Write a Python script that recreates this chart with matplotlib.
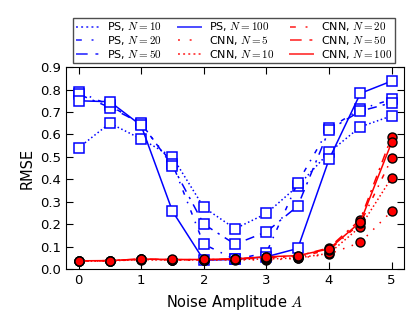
import numpy as np
import matplotlib
matplotlib.use("Agg")
import matplotlib.pyplot as plt

amp = [0, 0.5, 1, 1.5, 2, 2.5, 3, 3.5, 4, 4.5, 5]

ps_n = [10, 20, 50, 100]
ps_rmse = {
    10: [0.54, 0.65, 0.58, 0.50, 0.275, 0.18, 0.248, 0.37, 0.52, 0.634, 0.683],
    20: [0.79, 0.73, 0.645, 0.47, 0.111, 0.043, 0.073, 0.385, 0.627, 0.713, 0.756],
    50: [0.78, 0.72, 0.65, 0.46, 0.20, 0.111, 0.166, 0.281, 0.62, 0.704, 0.741],
    100: [0.75, 0.746, 0.64, 0.258, 0.04, 0.043, 0.055, 0.092, 0.489, 0.783, 0.838],
}

cnn_n = [5, 10, 20, 50, 100]
cnn_rmse = {
    5: [0.036, 0.036, 0.043, 0.04, 0.04, 0.042, 0.04, 0.048, 0.067, 0.119, 0.258],
    10: [0.036, 0.037, 0.042, 0.041, 0.041, 0.043, 0.045, 0.05, 0.07, 0.189, 0.407],
    20: [0.037, 0.037, 0.044, 0.041, 0.042, 0.044, 0.05, 0.055, 0.085, 0.204, 0.493],
    50: [0.036, 0.038, 0.045, 0.042, 0.042, 0.045, 0.053, 0.058, 0.095, 0.221, 0.59],
    100: [0.037, 0.038, 0.045, 0.043, 0.043, 0.046, 0.055, 0.06, 0.09, 0.21, 0.565],
}

ps_styles = {10: ':', 20: (0, (3, 5, 1, 5)), 50: (0, (6, 4, 1.5, 4)), 100: '-'}
cnn_styles = {5: (0, (1, 5)), 10: ':', 20: (0, (3, 5, 1, 5)),
              50: (0, (6, 4, 1.5, 4)), 100: '-'}

plt.rcParams['font.family'] = 'DejaVu Sans'
plt.rcParams['mathtext.fontset'] = 'cm'
plt.rcParams['xtick.direction'] = 'in'
plt.rcParams['ytick.direction'] = 'in'

fig = plt.figure(figsize=(4.15, 3.29), dpi=100)
ax = fig.add_axes([0.159, 0.182, 0.815, 0.614])

for n in ps_n:
    ax.plot(amp, ps_rmse[n], color='blue', ls=ps_styles[n], lw=1.1,
            marker='s', ms=7, mfc='white', mec='blue', mew=1.1,
            label=r'PS, $N=%d$' % n)
for n in cnn_n:
    ax.plot(amp, cnn_rmse[n], color='red', ls=cnn_styles[n], lw=1.1,
            marker='o', ms=6.5, mfc='red', mec='black', mew=1.0,
            label=r'CNN, $N=%d$' % n)

ax.set_xlim(-0.2, 5.2)
ax.set_ylim(0, 0.9)
ax.set_xticks(range(6))
ax.set_yticks(np.arange(0, 0.91, 0.1))
ax.tick_params(top=True, right=True, length=5, labelsize=9.5)
ax.set_xlabel(r'Noise Amplitude $A$', fontsize=10.5)
ax.set_ylabel('RMSE', fontsize=10.5)

leg = ax.legend(loc='upper center', bbox_to_anchor=(0.564, 0.9626),
                bbox_transform=fig.transFigure, ncol=3, fontsize=8,
                handlelength=2.1, columnspacing=1.4, handletextpad=0.7,
                labelspacing=0.05, borderpad=0.23, fancybox=False,
                framealpha=1, edgecolor='0.3')
for h in leg.legend_handles:
    h.set_marker('')
    h.set_alpha(0.7)
    h.set_linewidth(1.4)
leg.get_frame().set_linewidth(1.0)

fig.savefig('out.png', dpi=100)
